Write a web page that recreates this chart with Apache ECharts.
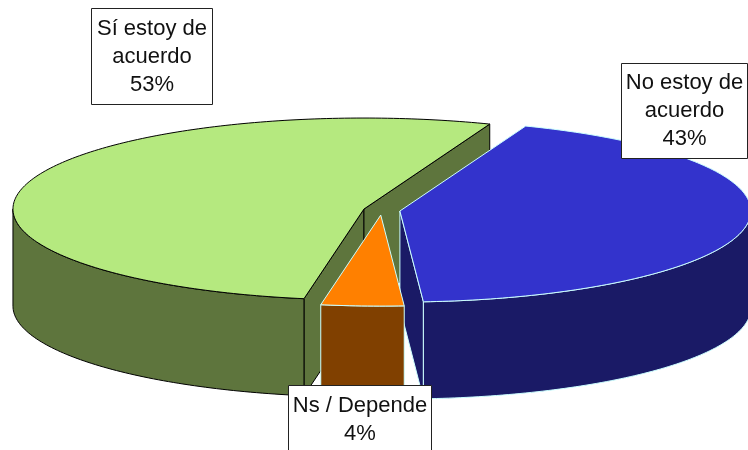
<!DOCTYPE html>
<html>
<head>
<meta charset="utf-8">
<style>html,body{margin:0;padding:0;background:#fff}#c{width:748px;height:450px}</style>
<script src="https://cdn.jsdelivr.net/npm/echarts@6/dist/echarts.min.js"></script>
</head>
<body>
<div id="c"></div>
<script>
// Data, in drawing order around the pie (clockwise from the first slice)
const categories = ['No estoy de\nacuerdo', 'Ns / Depende', 'Sí estoy de\nacuerdo'];
const values = [43.1, 3.8, 53.1];

// Styles
const topColors = ['#3333CC', '#FF8000', '#B5E97F'];
const sideColors = ['#1A1A66', '#804000', '#5E753D'];
const edgeColors = ['#CCFFFF', '#CCFFFF', '#000000'];
const paintOrder = [1, 2, 0];

// Projection of the tilted pie
const cx = 381.7, cy = 210.3, rx = 351, ry = 91, depth = 97;
const explode = 18.4, startAngle = 21;

// Label boxes [left, top, width, height]
const labelBoxes = [[621.5, 63.5, 126, 95], [288.5, 385.5, 143, 70], [91.5, 8.5, 121, 96]];

const total = values.reduce((a, b) => a + b, 0);
const rad = d => d * Math.PI / 180;
function sliceAngles(i) {
  let a0 = startAngle;
  for (let k = 0; k < i; k++) a0 += values[k] / total * 360;
  return [a0, a0 + values[i] / total * 360];
}
function project(c, a, r) {
  return [c[0] + r * rx * Math.sin(rad(a)), c[1] - r * ry * Math.cos(rad(a))];
}
function down(p) { return [p[0], p[1] + depth]; }

function renderSlice(params, api) {
  const i = params.dataIndex;
  const [a0, a1] = sliceAngles(i);
  const mid = (a0 + a1) / 2;
  const c = project([cx, cy], mid, explode / rx);
  const base = paintOrder[i] * 10;
  const style = fill => ({ fill: fill, stroke: edgeColors[i], lineWidth: 1, lineJoin: 'round' });
  const kids = [];
  const poly = (points, fill, z) => kids.push({ type: 'polygon', z2: base + z, shape: { points: points }, style: style(fill) });

  // cut faces that turn toward the viewer
  if (Math.sin(rad(a0)) < 0) {
    const e = project(c, a0, 1);
    poly([c, e, down(e), down(c)], sideColors[i], 1);
  }
  if (Math.sin(rad(a1)) > 0) {
    const e = project(c, a1, 1);
    poly([c, e, down(e), down(c)], sideColors[i], 1);
  }
  // outer wall: the part of the rim on the near half
  const w0 = Math.max(a0, 90), w1 = Math.min(a1, 270);
  if (w1 > w0) {
    const rim = [];
    for (let a = w0; a < w1; a += 1) rim.push(project(c, a, 1));
    rim.push(project(c, w1, 1));
    poly(rim.concat(rim.map(down).reverse()), sideColors[i], 2);
  }
  // top face
  const topPts = [c];
  for (let a = a0; a < a1; a += 1) topPts.push(project(c, a, 1));
  topPts.push(project(c, a1, 1));
  poly(topPts, topColors[i], 3);

  return { type: 'group', children: kids };
}

function renderLabel(params, api) {
  const i = params.dataIndex;
  const b = labelBoxes[i];
  const pct = Math.round(values[i] / total * 100) + '%';
  return {
    type: 'group',
    children: [
      { type: 'rect', z2: 100, shape: { x: b[0], y: b[1], width: b[2], height: b[3] },
        style: { fill: '#FFFFFF', stroke: '#222222', lineWidth: 1 } },
      { type: 'text', z2: 101, x: b[0] + b[2] / 2, y: b[1] + (i === 1 ? 34 : b[3] / 2),
        style: { text: categories[i] + '\n' + pct, fill: '#111111', align: 'center', verticalAlign: 'middle',
                 font: '22px "Liberation Sans", Arial, sans-serif', lineHeight: 28 } }
    ]
  };
}

const chart = echarts.init(document.getElementById('c'), null, { renderer: 'canvas' });
const seriesData = categories.map((n, i) => ({ name: n, value: values[i] }));
chart.setOption({
  animation: false,
  backgroundColor: '#FFFFFF',
  series: [
    { type: 'custom', coordinateSystem: 'none', renderItem: renderSlice, data: seriesData, z: 2 },
    { type: 'custom', coordinateSystem: 'none', renderItem: renderLabel, data: seriesData, z: 3 }
  ]
});
</script>
</body>
</html>
